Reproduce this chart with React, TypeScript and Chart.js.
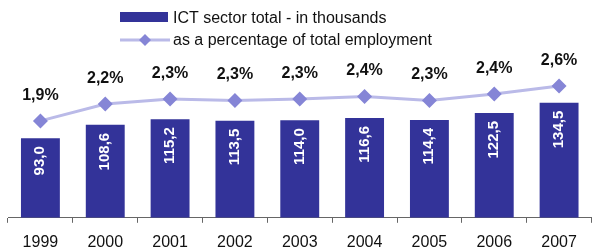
import React, { useEffect, useRef } from "react";
import { Chart, registerables } from "chart.js";

Chart.register(...registerables);

const years = ["1999", "2000", "2001", "2002", "2003", "2004", "2005", "2006", "2007"];
const ictThousands = [93.0, 108.6, 115.2, 113.5, 114.0, 116.6, 114.4, 122.5, 134.5];
const pctEmployment = [1.9, 2.24, 2.34, 2.31, 2.34, 2.39, 2.31, 2.44, 2.6];
const barLabel = "ICT sector total - in thousands";
const lineLabel = "as a percentage of total employment";

const BAR_COLOR = "#333399";
const LINE_COLOR = "#babae8";
const POINT_COLOR = "#8585d6";
const FONT = "'Liberation Sans', Arial, sans-serif";

const fmt = (v: number) => v.toFixed(1).replace(".", ",");

const labelsPlugin = {
  id: "customLabels",
  afterDatasetsDraw(chart: any) {
    const ctx = chart.ctx;
    const barMeta = chart.getDatasetMeta(0);
    ctx.save();
    ctx.fillStyle = "#ffffff";
    ctx.font = `bold 15px ${FONT}`;
    ctx.textAlign = "right";
    ctx.textBaseline = "alphabetic";
    barMeta.data.forEach((el: any, i: number) => {
      ctx.save();
      ctx.translate(el.x, el.y + 8);
      ctx.rotate(-Math.PI / 2);
      ctx.fillText(fmt(ictThousands[i]), 0, 4);
      ctx.restore();
    });
    ctx.restore();
    const lineMeta = chart.getDatasetMeta(1);
    ctx.save();
    ctx.fillStyle = "#111111";
    ctx.font = `bold 16px ${FONT}`;
    ctx.textAlign = "center";
    ctx.textBaseline = "alphabetic";
    lineMeta.data.forEach((el: any, i: number) => {
      ctx.fillText(fmt(pctEmployment[i]) + "%", el.x, el.y - 21);
    });
    ctx.restore();
  },
  afterDraw(chart: any) {
    const ctx = chart.ctx;
    ctx.save();
    ctx.fillStyle = BAR_COLOR;
    ctx.fillRect(120, 12, 48, 10);
    ctx.strokeStyle = LINE_COLOR;
    ctx.lineWidth = 3;
    ctx.beginPath();
    ctx.moveTo(120, 40);
    ctx.lineTo(170, 40);
    ctx.stroke();
    ctx.fillStyle = POINT_COLOR;
    ctx.beginPath();
    ctx.moveTo(145, 34);
    ctx.lineTo(151, 40);
    ctx.lineTo(145, 46);
    ctx.lineTo(139, 40);
    ctx.closePath();
    ctx.fill();
    ctx.fillStyle = "#111111";
    ctx.font = `16px ${FONT}`;
    ctx.textAlign = "left";
    ctx.textBaseline = "alphabetic";
    ctx.fillText(barLabel, 173, 23);
    ctx.fillText(lineLabel, 173, 45);
    ctx.restore();
  },
};

export default function App() {
  const ref = useRef<HTMLCanvasElement>(null);
  useEffect(() => {
    if (!ref.current) return;
    const chart = new Chart(ref.current, {
      type: "bar",
      data: {
        labels: years,
        datasets: [
          {
            type: "bar",
            label: barLabel,
            data: ictThousands,
            backgroundColor: BAR_COLOR,
            barPercentage: 0.6,
            categoryPercentage: 1,
            yAxisID: "y",
            order: 1,
          },
          {
            type: "line",
            label: lineLabel,
            data: pctEmployment,
            borderColor: LINE_COLOR,
            borderWidth: 3,
            pointStyle: "rectRot",
            pointRadius: 7.5,
            pointBackgroundColor: POINT_COLOR,
            pointBorderColor: POINT_COLOR,
            pointBorderWidth: 0,
            yAxisID: "y1",
            order: 0,
          } as any,
        ],
      },
      options: {
        responsive: false,
        animation: false,
        devicePixelRatio: 1,
        layout: { padding: { left: 8, right: 0, top: 48, bottom: 0 } },
        plugins: { legend: { display: false }, tooltip: { enabled: false } },
        scales: {
          x: {
            offset: true,
            grid: {
              offset: true,
              drawOnChartArea: false,
              drawTicks: true,
              tickLength: 5,
              color: "#666666",
            },
            border: { display: true, color: "#666666", width: 1 },
            ticks: {
              color: "#111111",
              font: { family: FONT, size: 16 },
              padding: 10,
              maxRotation: 0,
            },
          },
          y: { display: false, min: 0, max: 198.4 },
          y1: { display: false, min: -0.04, max: 3.36, position: "right" },
        },
      },
      plugins: [labelsPlugin],
    });
    return () => chart.destroy();
  }, []);
  return (
    <div style={{ position: "fixed", left: 0, top: 0, width: 599, height: 248, overflow: "hidden", background: "#fff" }}>
      <canvas ref={ref} width={599} height={262} style={{ display: "block" }} />
    </div>
  );
}
